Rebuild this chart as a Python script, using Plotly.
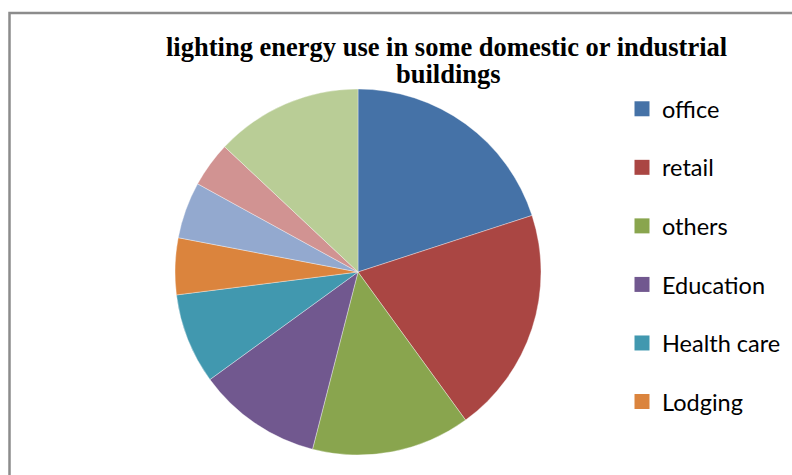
import plotly.graph_objects as go

categories = ["office", "retail", "others", "Education", "Health care", "Lodging",
              "Warehouse", "Food service", "Public assembly"]
values = [20, 20, 14, 11, 8, 5, 5, 4, 13]
colors = ["#4572A7", "#AA4643", "#89A54E", "#71588F", "#4198AF", "#DB843D",
          "#93A9CF", "#D19392", "#B9CD96"]
legend_shown = 6
title_lines = ["lighting energy use in some domestic or industrial", "buildings"]

W, H = 792, 475
fig = go.Figure()

cx, cy, r = 358, 272, 183
fig.add_trace(go.Pie(
    labels=categories, values=values, sort=False, direction="clockwise", rotation=0,
    marker=dict(colors=colors, line=dict(color="rgba(255,255,255,0.6)", width=0.6)),
    textinfo="none", showlegend=False,
    domain=dict(x=[(cx - r) / W, (cx + r) / W], y=[1 - (cy + r) / H, 1 - (cy - r) / H]),
))

for i in range(legend_shown):
    fig.add_trace(go.Scatter(
        x=[None], y=[None], mode="markers", name=categories[i], legendgroup=str(i),
        marker=dict(symbol="square", size=15, color=colors[i], line=dict(width=0)),
    ))

title_font = dict(family="Liberation Serif, Times New Roman, serif", size=26.5, color="#000000")
fig.update_layout(
    width=W, height=H,
    margin=dict(l=0, r=0, t=0, b=0),
    paper_bgcolor="white", plot_bgcolor="white",
    xaxis=dict(visible=False), yaxis=dict(visible=False),
    legend=dict(x=622 / W, y=1 - 87 / H, xanchor="left", yanchor="top",
                font=dict(family="Lato, Carlito, sans-serif", size=23.5, color="#000000"),
                tracegroupgap=25, itemsizing="trace", bgcolor="rgba(0,0,0,0)"),
    shapes=[dict(type="rect", xref="paper", yref="paper", layer="below",
                 x0=9.5 / W, x1=1.05, y0=-0.05, y1=1 - 13 / H,
                 line=dict(color="#8c8c8c", width=2.5))],
    annotations=[
        dict(text="<b>" + title_lines[0] + "</b>", xref="paper", yref="paper",
             x=446 / W, y=1 - 64 / H, xanchor="center", yanchor="bottom",
             showarrow=False, font=title_font),
        dict(text="<b>" + title_lines[1] + "</b>", xref="paper", yref="paper",
             x=448 / W, y=1 - 91 / H, xanchor="center", yanchor="bottom",
             showarrow=False, font=title_font),
    ],
)

fig.write_html("out.html")
